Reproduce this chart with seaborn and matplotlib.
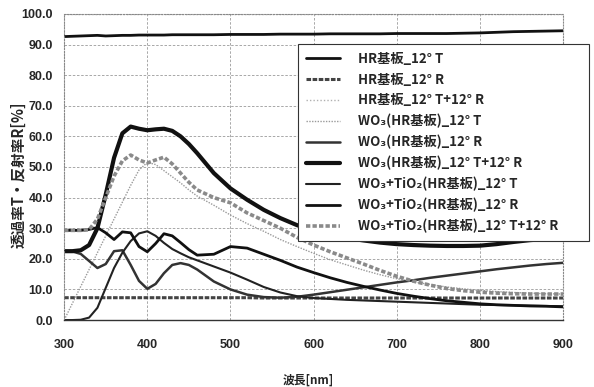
import matplotlib
matplotlib.use("Agg")
import matplotlib.pyplot as plt
import pandas as pd
import seaborn as sns

# wavelength grid [nm]
wl = [300, 310, 320, 330, 340, 350, 360, 370, 380, 390, 400, 410, 420, 430,
      440, 450, 460, 480, 500, 520, 540, 560, 580, 600, 620, 640, 660, 680,
      700, 720, 740, 760, 780, 800, 820, 840, 860, 880, 900]

hr_t = [92.6, 92.7, 92.8, 92.9, 93.0, 92.8, 92.9, 93.0, 93.0, 93.1, 93.1, 93.1,
        93.1, 93.2, 93.2, 93.2, 93.2, 93.2, 93.3, 93.3, 93.3, 93.4, 93.4, 93.4,
        93.5, 93.5, 93.5, 93.5, 93.6, 93.6, 93.6, 93.6, 93.7, 93.8, 94.0, 94.2,
        94.3, 94.4, 94.5]
hr_r = [7.3] * 20 + [7.2] * 19
hr_tr = [99.9] * 39

wo3_t = [0.0, 5.5, 11.0, 16.5, 22.0, 27.5, 33.0, 38.5, 44.0, 49.0, 51.5, 50.8,
         48.8, 46.8, 44.8, 42.5, 40.5, 37.5, 34.3, 31.5, 29.0, 26.3, 24.0, 21.8,
         19.7, 18.0, 16.3, 14.8, 13.5, 12.5, 11.6, 10.8, 10.2, 9.7, 9.3, 9.0,
         8.8, 8.6, 8.5]
wo3_r = [22.5, 22.4, 21.6, 19.3, 17.0, 18.3, 22.5, 22.8, 18.0, 12.8, 10.2, 11.8,
         15.3, 18.0, 18.6, 18.0, 16.5, 12.6, 10.0, 8.3, 7.5, 7.3, 7.6, 8.3,
         9.1, 9.9, 10.7, 11.5, 12.3, 13.0, 13.8, 14.5, 15.2, 15.9, 16.6, 17.2,
         17.8, 18.3, 18.7]
wo3_tr = [22.5, 22.5, 22.8, 24.5, 30.0, 41.0, 53.0, 61.0, 63.2, 62.5, 62.0, 62.3,
          62.5, 61.8, 60.0, 57.5, 54.5, 48.0, 43.0, 39.3, 36.0, 33.3, 31.0, 29.2,
          27.8, 26.8, 26.0, 25.3, 24.8, 24.5, 24.3, 24.2, 24.2, 24.3, 24.8, 25.5,
          26.1, 26.5, 26.8]

wt_t = [0.0, 0.0, 0.1, 0.8, 4.0, 10.5, 17.0, 22.0, 25.8, 28.3, 29.0, 27.5,
        25.2, 23.2, 21.8, 20.5, 19.5, 17.5, 15.5, 13.2, 10.8, 9.0, 7.8, 7.2,
        6.9, 6.6, 6.4, 6.2, 6.0, 5.8, 5.6, 5.4, 5.2, 5.0, 4.9, 4.8, 4.7, 4.6, 4.5]
wt_r = [29.3, 29.3, 29.3, 29.6, 30.2, 28.5, 26.3, 28.8, 28.5, 24.0, 22.3, 25.0,
        28.2, 27.5, 25.3, 23.0, 21.2, 21.5, 24.0, 23.5, 21.5, 19.5, 17.3, 15.5,
        13.8, 12.3, 11.0, 9.8, 8.7, 7.8, 7.0, 6.3, 5.8, 5.3, 5.0, 4.8, 4.6, 4.5, 4.3]
wt_tr = [29.3, 29.3, 29.3, 29.5, 33.0, 40.0, 47.0, 52.0, 53.9, 52.3, 51.3, 52.3,
         53.2, 51.0, 48.0, 45.0, 42.5, 40.0, 38.3, 35.0, 32.5, 30.0, 27.0, 24.5,
         22.3, 20.3, 18.3, 16.2, 14.3, 12.7, 11.4, 10.3, 9.6, 9.1, 8.8, 8.6,
         8.5, 8.5, 8.5]

labels = [
    "HR基板_12° T",
    "HR基板_12° R",
    "HR基板_12° T+12° R",
    "WO₃(HR基板)_12° T",
    "WO₃(HR基板)_12° R",
    "WO₃(HR基板)_12° T+12° R",
    "WO₃+TiO₂(HR基板)_12° T",
    "WO₃+TiO₂(HR基板)_12° R",
    "WO₃+TiO₂(HR基板)_12° T+12° R",
]
series = [hr_t, hr_r, hr_tr, wo3_t, wo3_r, wo3_tr, wt_t, wt_r, wt_tr]

# (color, linewidth, linestyle) per series
styles = [
    ("#111111", 2.0, "-"),
    ("#444444", 2.2, (0, (1.5, 0.5))),
    ("#b0b0b0", 1.0, (0, (1, 1.5))),
    ("#9a9a9a", 1.0, (0, (1, 1))),
    ("#333333", 1.8, "-"),
    ("#111111", 3.0, "-"),
    ("#222222", 1.5, "-"),
    ("#111111", 2.0, "-"),
    ("#8a8a8a", 2.6, (0, (1.2, 0.6))),
]

sns.set_style("white")
plt.rcParams["font.family"] = ["Noto Sans CJK JP", "DejaVu Sans"]
plt.rcParams["font.weight"] = "bold"

fig = plt.figure(figsize=(5.94, 3.87), dpi=100)
ax = fig.add_axes([0.108, 0.173, 0.840, 0.791])

for vals, lab, (c, lw, ls) in zip(series, labels, styles):
    sns.lineplot(x=wl, y=vals, ax=ax, color=c, linewidth=lw, linestyle=ls,
                 label=lab, legend=False)

ax.set_xlim(300, 900)
ax.set_ylim(0, 100)
ax.set_xticks(range(300, 901, 100))
ax.set_yticks(range(0, 101, 10))
ax.set_yticklabels([f"{v:.1f}" for v in range(0, 101, 10)])
ax.grid(True, color="#9a9a9a", linewidth=0.6, linestyle=(0, (3, 2)))
ax.set_axisbelow(True)

for name in ["left", "top", "right"]:
    ax.spines[name].set_color("#888888")
    ax.spines[name].set_linewidth(0.8)
    ax.spines[name].set_linestyle(":")
ax.spines["bottom"].set_color("#333333")
ax.spines["bottom"].set_linewidth(1.0)

ax.tick_params(axis="both", length=0, labelsize=9)
ax.tick_params(axis="x", pad=14)
ax.tick_params(axis="y", pad=8)
for t in ax.get_xticklabels() + ax.get_yticklabels():
    t.set_family(["Liberation Sans Narrow", "Liberation Sans"])
    t.set_fontweight("bold")

ax.set_xlabel("波長[nm]", fontsize=8.5, fontweight="bold")
ax.xaxis.set_label_coords(0.49, -0.196)
ax.xaxis.label.set_va("center")
ax.set_ylabel("透過率T・反射率R[%]", fontsize=10.5, fontweight="bold")
ax.yaxis.set_label_coords(-0.092, 0.474)
ax.yaxis.label.set_va("center")

handles, labs = ax.get_legend_handles_labels()
leg = fig.legend(handles, labs, loc="upper left",
                 bbox_to_anchor=(0.502, 0.385, 0.49, 0.501), mode="expand",
                 frameon=True, fancybox=False, shadow=False, fontsize=9.5,
                 labelspacing=0.5, handlelength=2.6, handletextpad=1.3,
                 borderpad=0.6, borderaxespad=0.0)
leg.get_frame().set_edgecolor("#333333")
leg.get_frame().set_linewidth(0.8)
leg.get_frame().set_alpha(1.0)
for t in leg.get_texts():
    t.set_fontweight("bold")

fig.savefig("out.png", dpi=100)
